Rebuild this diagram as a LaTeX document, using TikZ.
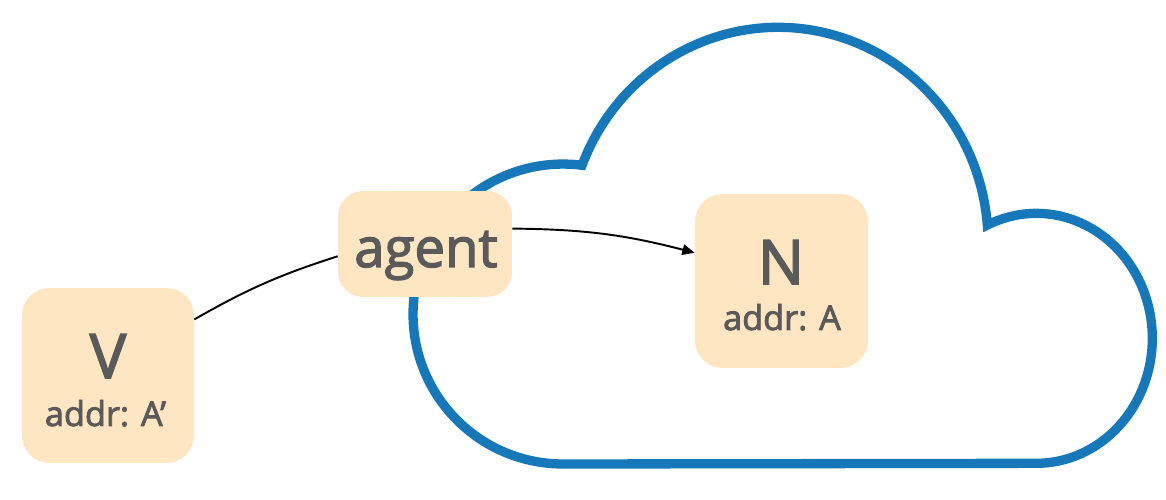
\documentclass[tikz,border=0pt]{standalone}
\usepackage{fontspec}
\setmainfont{Open Sans}[FakeBold=2.5]
\usetikzlibrary{arrows.meta}

\definecolor{peach}{RGB}{255,230,195}
\definecolor{cloudblue}{RGB}{22,119,185}
\definecolor{textgrey}{RGB}{90,90,90}

\tikzset{
    box/.style={fill=peach, rounded corners=0.55cm, inner sep=0pt},
    bigname/.style={anchor=base, text=textgrey, font=\fontsize{35pt}{40pt}\selectfont},
    addrname/.style={anchor=base, text=textgrey, font=\fontsize{19.5pt}{22pt}\selectfont},
    link/.style={line width=1.1pt},
    cloudline/.style={draw=cloudblue, line width=5.3pt}
}

\begin{document}
\begin{tikzpicture}[x=0.02cm, y=0.02cm]
                \useasboundingbox (0, 0) rectangle (1166, 500);

                % cloud
                \draw[cloudline] (563, 36)
                    arc[start angle=270, end angle=82.7, radius=3cm]
                    arc[start angle=159, end angle=4.6, x radius=4.2cm, y radius=4.3cm]
                    arc[start angle=115, end angle=-90, x radius=2.32cm, y radius=2.5cm]
                    -- cycle;

                \node (v) at (108, 124.5) [box, minimum width=3.44cm, minimum height=3.5cm] {};
                \node (agent) at (425, 256) [box, rounded corners=0.5cm, minimum width=3.48cm, minimum height=2.12cm] {};
                \node (n) at (781.5, 219) [box, minimum width=3.46cm, minimum height=3.48cm] {};

                \node (vname) at (108, 122) [bigname] {V};
                \node (vaddr) at (105.5, 74) [addrname] {addr: A’};
                \node (agentname) at (426, 233) [bigname, font=\fontsize{31pt}{36pt}\selectfont] {agent};
                \node (nname) at (781, 216) [bigname] {N};
                \node (naddr) at (782, 170) [addrname] {addr: A};

                \draw[link] (v.33) to[bend left=6] (agent.188);
                \draw[link, -{Triangle[length=7pt, width=6pt]}] (agent.10) to[bend left=7] (n.162);
            \end{tikzpicture}
\end{document}
